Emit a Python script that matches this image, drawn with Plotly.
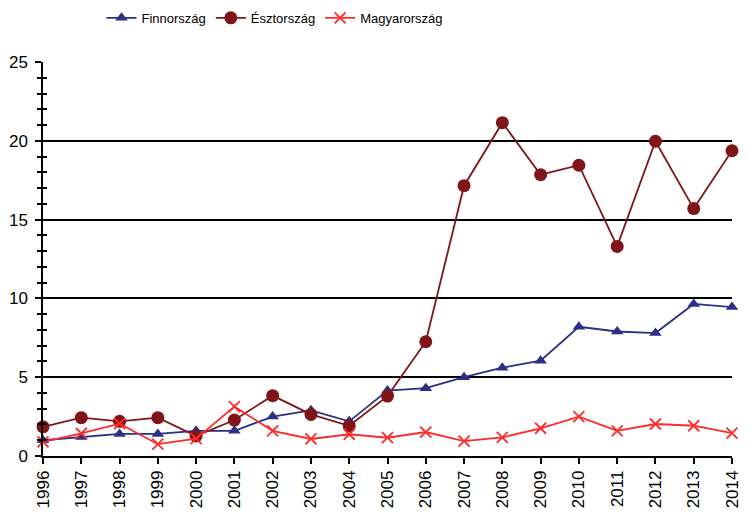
import plotly.graph_objects as go

years = list(range(1996, 2015))
year_labels = [str(y) for y in years]

finnorszag = [1.0, 1.2, 1.4, 1.4, 1.6, 1.6, 2.5, 2.9, 2.2, 4.15, 4.3, 5.0, 5.6, 6.05, 8.2, 7.9, 7.8, 9.65, 9.45]
esztorszag = [1.85, 2.43, 2.2, 2.43, 1.27, 2.28, 3.83, 2.64, 1.92, 3.8, 7.25, 17.15, 21.15, 17.85, 18.45, 13.3, 19.97, 15.7, 19.37]
magyarorszag = [0.9, 1.44, 2.05, 0.75, 1.1, 3.13, 1.6, 1.08, 1.38, 1.16, 1.52, 0.95, 1.18, 1.76, 2.5, 1.59, 2.03, 1.92, 1.45]

series_names = ["Finnország", "Észtország", "Magyarország"]
y_ticks = [0, 5, 10, 15, 20, 25]

FONT = "Liberation Sans, Arial, sans-serif"

fig = go.Figure()
fig.add_trace(go.Scatter(
    x=years, y=finnorszag, name=series_names[0], mode="lines+markers",
    line=dict(color="#2B2F86", width=1.8),
    marker=dict(symbol="triangle-up", size=11, color="#2B2F86"),
    cliponaxis=False,
))
fig.add_trace(go.Scatter(
    x=years, y=esztorszag, name=series_names[1], mode="lines+markers",
    line=dict(color="#7F1518", width=1.8),
    marker=dict(symbol="circle", size=13, color="#7F1518"),
    cliponaxis=False,
))
fig.add_trace(go.Scatter(
    x=years, y=magyarorszag, name=series_names[2], mode="lines+markers",
    line=dict(color="#FF2A2A", width=1.8),
    marker=dict(symbol="x-thin", size=11, line=dict(color="#FF2A2A", width=1.8), color="#FF2A2A"),
    cliponaxis=False,
))

fig.update_layout(
    width=734, height=504,
    margin=dict(l=35, r=10, t=54, b=56, autoexpand=False),
    paper_bgcolor="white", plot_bgcolor="white",
    font=dict(family=FONT, color="black"),
    showlegend=True,
    legend=dict(
        orientation="h", x=0.336, xanchor="center", y=1.112, yanchor="middle",
        font=dict(family=FONT, size=13, color="black"),
        itemwidth=30,
    ),
    xaxis=dict(
        range=[1996, 2014], tickmode="array", tickvals=years, ticktext=year_labels,
        tickangle=-90, ticks="outside", ticklen=6, tickwidth=1.5, tickcolor="black",
        showline=True, linecolor="black", linewidth=1.5,
        showgrid=False, zeroline=False, automargin=False,
        ticklabeloverflow="allow",
        tickfont=dict(family=FONT, size=17, color="black"),
    ),
    yaxis=dict(
        range=[0, 25], tickmode="array", tickvals=y_ticks,
        ticks="outside", ticklen=6, tickwidth=1.5, tickcolor="black",
        minor=dict(dtick=1, ticks="outside", ticklen=4, tickwidth=1.5, tickcolor="black", showgrid=False),
        showline=True, linecolor="black", linewidth=1.5,
        showgrid=True, gridcolor="black", gridwidth=1.5, zeroline=False, automargin=False,
        ticklabelstandoff=4,
        tickfont=dict(family=FONT, size=17, color="black"),
    ),
    yaxis2=dict(
        overlaying="y", matches="y", side="left", anchor="x",
        range=[0, 25], dtick=1, ticks="inside", ticklen=4, tickwidth=1.5, tickcolor="black",
        showticklabels=False, showgrid=False, zeroline=False, showline=False, automargin=False,
    ),
)

# invisible helper trace so the overlay axis (inner tick marks) is drawn
fig.add_trace(go.Scatter(x=[years[0]], y=[0], yaxis="y2", showlegend=False,
                         mode="markers", marker=dict(opacity=0), hoverinfo="skip"))

fig.write_html("out.html")
